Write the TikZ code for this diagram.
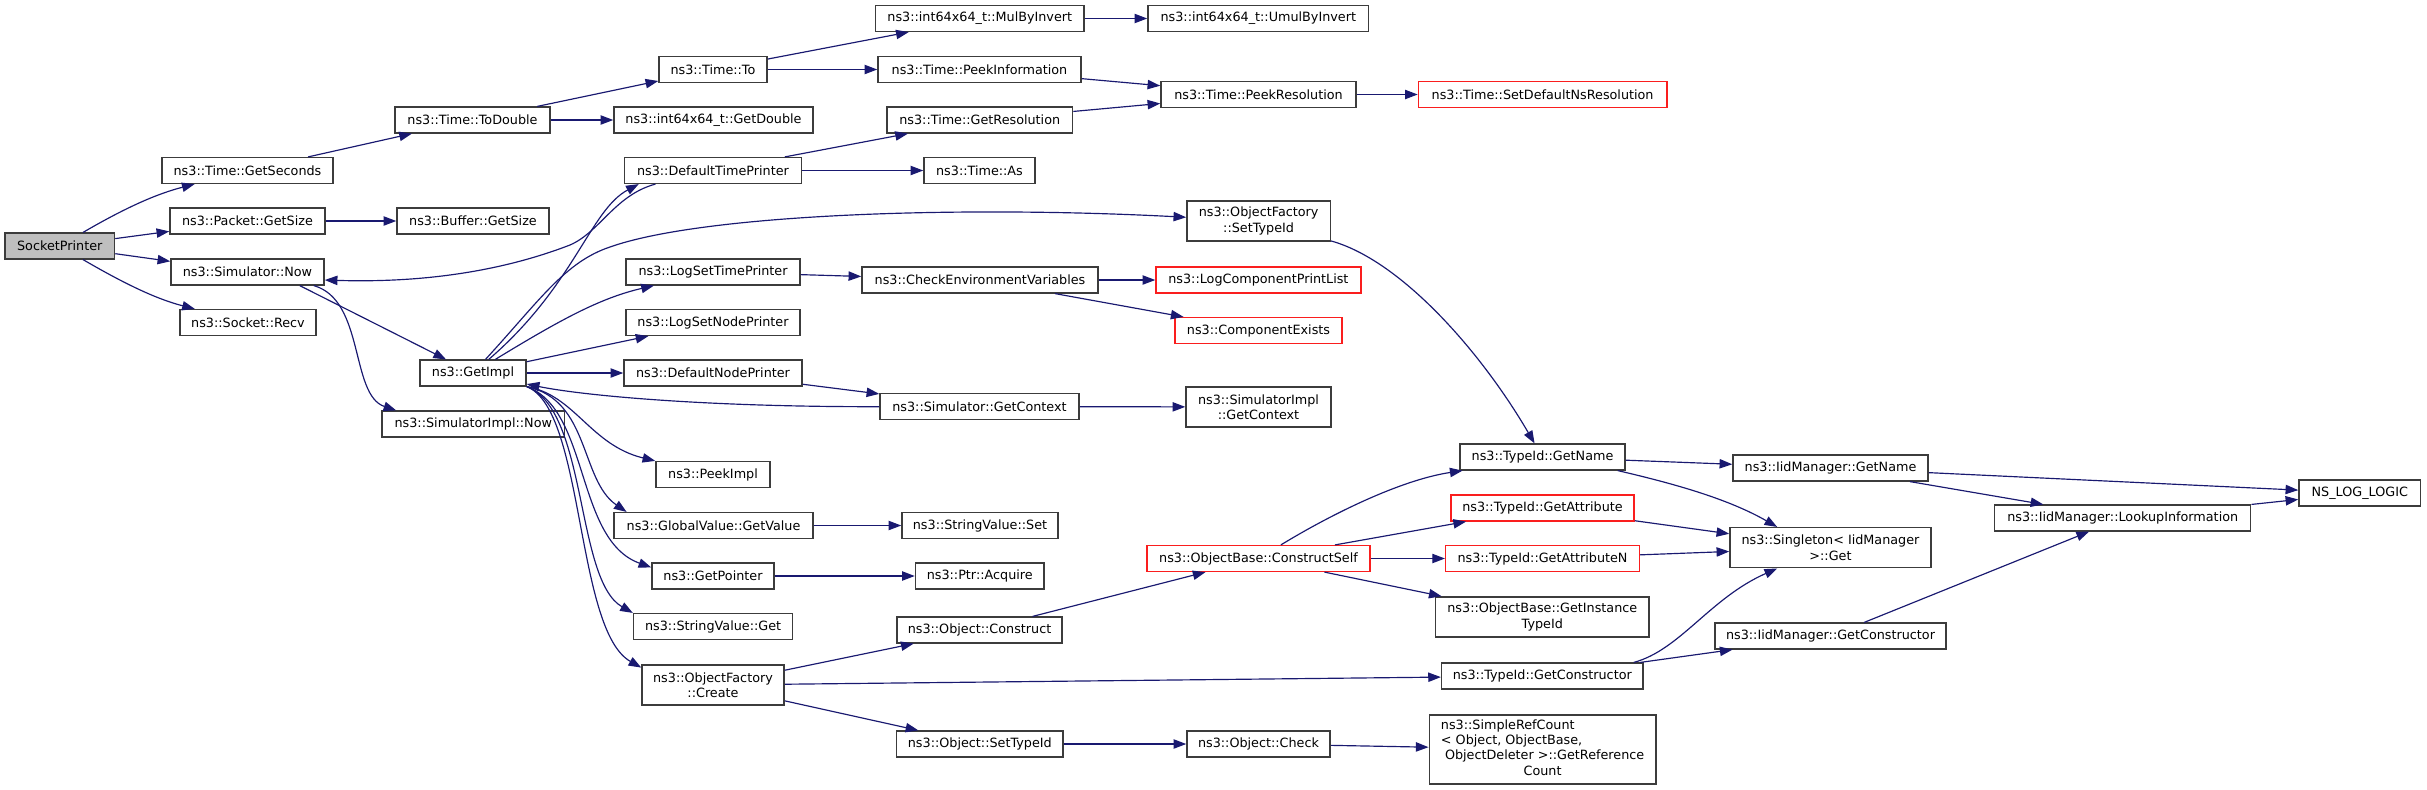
\documentclass[tikz,border=0pt]{standalone}
\usepackage{fontspec}
\setmainfont{DejaVu Sans}
\usepackage{xcolor}
\usepackage{tikz}
\usetikzlibrary{arrows.meta}
\definecolor{dxedge}{RGB}{25,25,112}
\definecolor{dxline}{RGB}{60,60,60}
\definecolor{dxred}{RGB}{250,30,30}
\definecolor{dxroot}{RGB}{191,191,191}
\tikzset{
  fn/.style={
    draw=dxline, line width=1.3pt, fill=white, rounded corners=0pt,
    align=center, inner sep=2pt, minimum height=7.7mm,
    font=\fontsize{10.9pt}{13pt}\selectfont
  },
  fnred/.style={fn, draw=dxred},
  fnroot/.style={fn, fill=dxroot},
  two/.style={minimum height=12mm},
  bw/.style={minimum width=#1*0.3mm},
  arr/.style={-{Triangle[length=3.8mm,width=2.8mm]}, draw=dxedge, line width=1pt}
}

\begin{document}
\begin{tikzpicture}[x=0.3mm, y=-0.3mm]
  \useasboundingbox (0,0) rectangle (2427,789);
  \node[fnroot, bw=109.5] (sock) at (59.75,246) {SocketPrinter};
  \node[fn, bw=171] (getsec) at (247.5,170.5) {ns3::Time::GetSeconds};
  \node[fn, bw=155] (pktsize) at (247.5,221) {ns3::Packet::GetSize};
  \node[fn, bw=153] (simnow) at (247.5,272) {ns3::Simulator::Now};
  \node[fn, bw=136] (recv) at (248,322.5) {ns3::Socket::Recv};
  \node[fn, bw=155] (todouble) at (472.5,120) {ns3::Time::ToDouble};
  \node[fn, bw=152] (bufsize) at (473,221) {ns3::Buffer::GetSize};
  \node[fn, bw=106] (getimpl) at (473,373) {ns3::GetImpl};
  \node[fn, bw=182.6] (simimplnow) at (473.3,424) {ns3::SimulatorImpl::Now};
  \node[fn, bw=108] (timeto) at (713,69.5) {ns3::Time::To};
  \node[fn, bw=199] (getdouble) at (713.5,120) {ns3::int64x64\_t::GetDouble};
  \node[fn, bw=177] (dtp) at (713,170.5) {ns3::DefaultTimePrinter};
  \node[fn, bw=173.5] (lstp) at (713,272) {ns3::LogSetTimePrinter};
  \node[fn, bw=174.5] (lsnp) at (713,322.5) {ns3::LogSetNodePrinter};
  \node[fn, bw=178] (dnp) at (713,373) {ns3::DefaultNodePrinter};
  \node[fn, bw=114] (peekimpl) at (713,474.5) {ns3::PeekImpl};
  \node[fn, bw=199] (gvget) at (713.5,525.5) {ns3::GlobalValue::GetValue};
  \node[fn, bw=122] (getptr) at (713,576) {ns3::GetPointer};
  \node[fn, bw=159] (svget) at (713.1,626.5) {ns3::StringValue::Get};
  \node[fn, two, bw=142] (ofcreate) at (713,685) {ns3::ObjectFactory\\::Create};
  \node[fn, bw=208.4] (mulinv) at (979.8,18.5) {ns3::int64x64\_t::MulByInvert};
  \node[fn, bw=203] (peekinfo) at (979.5,69.5) {ns3::Time::PeekInformation};
  \node[fn, bw=185.5] (getres) at (979.75,120) {ns3::Time::GetResolution};
  \node[fn, bw=111] (timeas) at (979.5,170.5) {ns3::Time::As};
  \node[fn, bw=236] (checkenv) at (980,280) {ns3::CheckEnvironmentVariables};
  \node[fn, bw=199] (simgetctx) at (979.5,406.5) {ns3::Simulator::GetContext};
  \node[fn, bw=156] (svset) at (980,525.5) {ns3::StringValue::Set};
  \node[fn, bw=128.5] (acquire) at (979.75,576) {ns3::Ptr::Acquire};
  \node[fn, bw=165] (objconstruct) at (979.5,630) {ns3::Object::Construct};
  \node[fn, bw=166.4] (objsettype) at (979.8,744) {ns3::Object::SetTypeId};
  \node[fn, bw=220.7] (umul) at (1258.3,18.5) {ns3::int64x64\_t::UmulByInvert};
  \node[fn, bw=195] (peekres) at (1258.5,94.5) {ns3::Time::PeekResolution};
  \node[fn, two, bw=143.3] (ofsettype) at (1258.6,221) {ns3::ObjectFactory\\::SetTypeId};
  \node[fnred, bw=204.8] (logcpl) at (1258.4,280) {ns3::LogComponentPrintList};
  \node[fnred, bw=167] (compex) at (1258.5,330.5) {ns3::ComponentExists};
  \node[fn, two, bw=145] (simimplctx) at (1258.5,407) {ns3::SimulatorImpl\\::GetContext};
  \node[fnred, bw=223] (constructself) at (1258.5,558.5) {ns3::ObjectBase::ConstructSelf};
  \node[fn, bw=143] (objcheck) at (1258.5,744) {ns3::Object::Check};
  \node[fnred, bw=248.3] (setdefres) at (1542.6,94.5) {ns3::Time::SetDefaultNsResolution};
  \node[fn, bw=165] (tgetname) at (1542.5,457) {ns3::TypeId::GetName};
  \node[fnred, bw=183] (tgetattr) at (1542.5,508) {ns3::TypeId::GetAttribute};
  \node[fnred, bw=193.6] (tgetattrn) at (1542.5,558.5) {ns3::TypeId::GetAttributeN};
  \node[fn, two, bw=213.3] (getinst) at (1542.3,617) {ns3::ObjectBase::GetInstance\\TypeId};
  \node[fn, bw=201.3] (tgetctor) at (1542.3,676) {ns3::TypeId::GetConstructor};
  \node[fn, bw=226.6, minimum height=20.7mm] (simplerc) at (1542.6,749.3)
    {\begin{tabular}{@{}l@{}}ns3::SimpleRefCount\\< Object, ObjectBase,\\
     \multicolumn{1}{@{}c@{}}{\ ObjectDeleter >::GetReference}\\
     \multicolumn{1}{@{}c@{}}{Count}\end{tabular}};
  \node[fn, bw=195] (iidgetname) at (1830.5,468) {ns3::IidManager::GetName};
  \node[fn, two, bw=201] (singleton) at (1830.5,547.7) {ns3::Singleton< IidManager\\ >::Get};
  \node[fn, bw=231] (iidgetctor) at (1830.5,636) {ns3::IidManager::GetConstructor};
  \node[fn, bw=256] (lookup) at (2122.7,518) {ns3::IidManager::LookupInformation};
  \node[fn, bw=121.5] (nslog) at (2359.75,493) {NS\_LOG\_LOGIC};

  \foreach \p/\q in {sock/pktsize,sock/simnow,getsec/todouble,pktsize/bufsize,
      todouble/timeto,todouble/getdouble,timeto/mulinv,timeto/peekinfo,mulinv/umul,
      peekinfo/peekres,getres/peekres,peekres/setdefres,dtp/getres,dtp/timeas,
      getimpl/lsnp,getimpl/dnp,dnp/simgetctx,simgetctx/simimplctx,lstp/checkenv,
      checkenv/logcpl,checkenv/compex,gvget/svset,getptr/acquire,
      ofcreate/objconstruct,ofcreate/tgetctor,ofcreate/objsettype,
      objconstruct/constructself,objsettype/objcheck,objcheck/simplerc,
      constructself/tgetattr,constructself/tgetattrn,constructself/getinst,
      tgetname/iidgetname,tgetattr/singleton,tgetattrn/singleton,tgetctor/iidgetctor,
      iidgetname/nslog,iidgetname/lookup,lookup/nslog,iidgetctor/lookup}
    \draw[arr] (\p) -- (\q);

  \draw[arr] (sock) .. controls (130,205) and (160,193) .. (getsec);
  \draw[arr] (sock) .. controls (130,287) and (160,300) .. (recv);
  \draw[arr] ([xshift=-7.5mm]simnow.south east) -- (getimpl);
  \draw[arr] ([xshift=-3.3mm]simnow.south east) .. controls (365,300) and (350,395) .. ([xshift=4.5mm]simimplnow.north west);
  \draw[arr] (getimpl) .. controls (575,285) and (590,210) .. ([xshift=4.5mm]dtp.south west);
  \draw[arr] ([xshift=9.5mm]dtp.south west) .. controls (615,195) and (600,232) .. (570,245)
    .. controls (500,272) and (420,283) .. ([yshift=-2.4mm]simnow.east);
  \draw[arr] (getimpl) .. controls (540,300) and (565,262) .. (610,247)
    .. controls (700,215) and (950,205) .. (ofsettype);
  \draw[arr] (getimpl) .. controls (560,320) and (600,298) .. (lstp);
  \draw[arr] (simgetctx) .. controls (700,407) and (580,395) .. (getimpl);
  \draw[arr] (getimpl.south east) .. controls (575,395) and (590,445) .. (peekimpl.north west);
  \draw[arr] (getimpl.south east) .. controls (590,400) and (580,480) .. ([xshift=4mm]gvget.north west);
  \draw[arr] (getimpl.south east) .. controls (590,410) and (575,540) .. ([yshift=-1.5mm]getptr.north west);
  \draw[arr] (getimpl.south east) .. controls (588,410) and (575,580) .. (svget.north west);
  \draw[arr] (getimpl.south east) .. controls (585,410) and (575,630) .. ([yshift=-1mm]ofcreate.north west);
  \draw[arr] (ofsettype) .. controls (1400,260) and (1480,350) .. (tgetname);
  \draw[arr] (constructself) .. controls (1330,515) and (1400,480) .. ([xshift=1mm]tgetname.south west);
  \draw[arr] ([xshift=-2.4mm]tgetname.south east) .. controls (1680,485) and (1730,500) .. ([xshift=-16mm]singleton.north);
  \draw[arr] ([xshift=-3mm]tgetctor.north east) .. controls (1680,650) and (1710,598) .. ([xshift=-16mm]singleton.south);
\end{tikzpicture}
\end{document}
